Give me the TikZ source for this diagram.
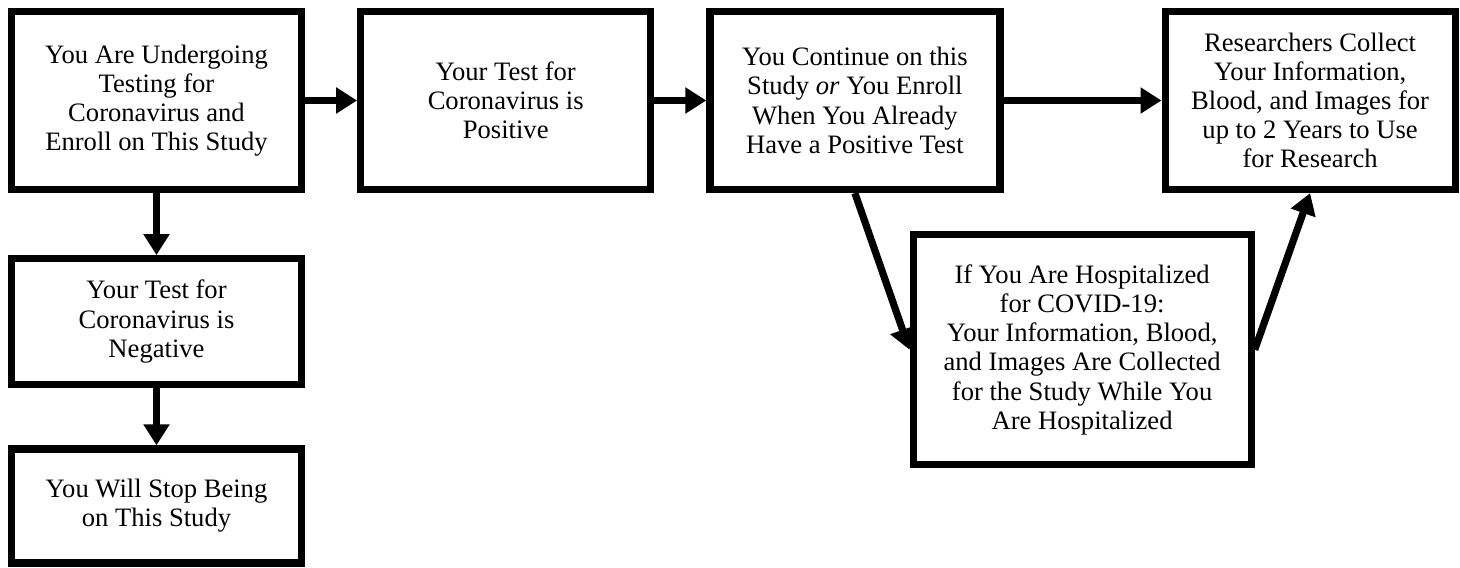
\documentclass[tikz,border=0pt]{standalone}
\usepackage{fontspec}
\setmainfont{Liberation Serif}
\usepackage{tikz}
\usetikzlibrary{arrows.meta}
\usetikzlibrary{positioning}
\tikzstyle{block} = [draw, line width=3.6pt, fill=white, rectangle, align=center,
    minimum width=145pt, minimum height=89pt, font=\fontsize{13.3}{14.6}\selectfont]
\tikzstyle{line} = [draw, line width=3.6pt, ->]

\begin{document}
\begin{tikzpicture}[auto, node distance=26pt, >={Triangle[length=10.5pt,width=12.5pt]}]
    \useasboundingbox (0,0) rectangle (730pt,-283.5pt);

    % top row
    \node [block] (testing) at (78.25pt,-50.25pt) {You Are Undergoing\\ Testing for\\ Coronavirus and\\ Enroll on This Study};
    \node [block, right=of testing] (positive) {Your Test for\\ Coronavirus is\\ Positive};
    \node [block, right=of positive] (continue) {You Continue on this\\ Study \textit{or} You Enroll\\ When You Already\\ Have a Positive Test};
    \node [block, right=79pt of continue] (collect) {Researchers Collect\\ Your Information,\\ Blood, and Images for\\ up to 2 Years to Use\\ for Research};

    % negative branch
    \node [block, below=31pt of testing, minimum height=63pt] (negative) {Your Test for\\ Coronavirus is\\ Negative};
    \node [block, below=28.5pt of negative, minimum height=57pt] (stop) {You Will Stop Being\\ on This Study};

    % hospital branch
    \node [block, below right=19pt and -47pt of continue, minimum width=169pt, minimum height=115pt] (hospital) {If You Are Hospitalized\\ for COVID-19:\\ Your Information, Blood,\\ and Images Are Collected\\ for the Study While You\\ Are Hospitalized};

    \draw [line] (testing) -- (positive);
    \draw [line] (positive) -- (continue);
    \draw [line] (continue) -- (collect);
    \draw [line] (testing) -- (negative);
    \draw [line] (negative) -- (stop);
    \draw [line] (continue.south) -- (hospital.west);
    \draw [line] (hospital.east) -- (collect.south);
\end{tikzpicture}
\end{document}
